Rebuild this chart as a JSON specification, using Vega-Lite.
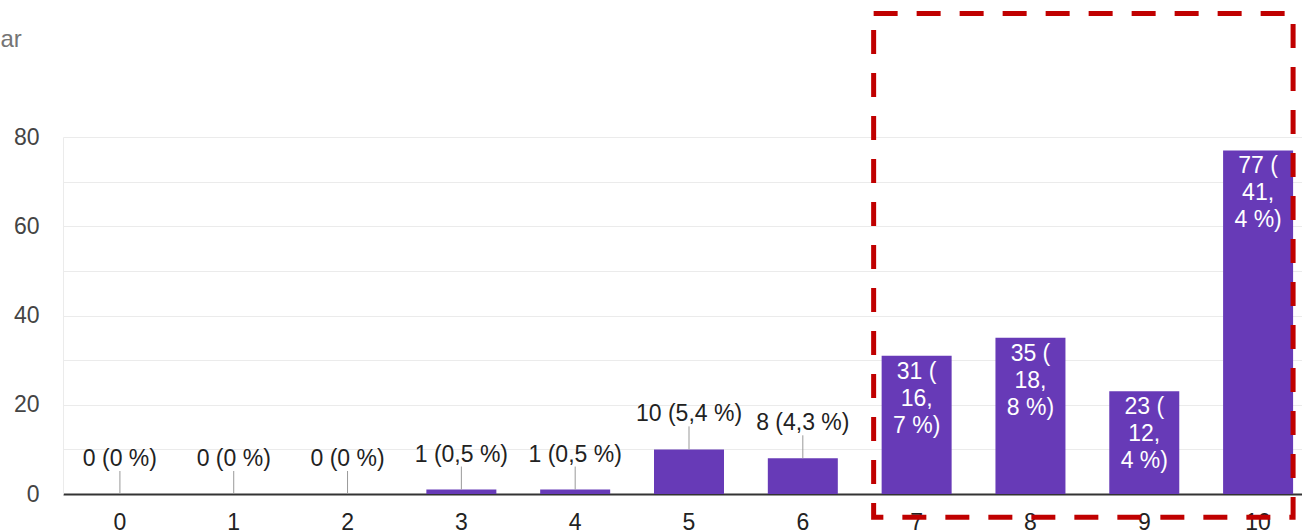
{
  "$schema": "https://vega.github.io/schema/vega-lite/v6.json",
  "autosize": "none",
  "width": 1239,
  "height": 357,
  "padding": {"left": 63, "top": 137, "right": 0, "bottom": 38},
  "config": {
    "view": {"stroke": null},
    "font": "Liberation Sans"
  },
  "data": {
    "values": [
      {"score": "0", "count": 0, "label": "0 (0 %)"},
      {"score": "1", "count": 0, "label": "0 (0 %)"},
      {"score": "2", "count": 0, "label": "0 (0 %)"},
      {"score": "3", "count": 1, "label": "1 (0,5 %)"},
      {"score": "4", "count": 1, "label": "1 (0,5 %)"},
      {"score": "5", "count": 10, "label": "10 (5,4 %)"},
      {"score": "6", "count": 8, "label": "8 (4,3 %)"},
      {"score": "7", "count": 31, "label": "31 (|16,|7 %)"},
      {"score": "8", "count": 35, "label": "35 (|18,|8 %)"},
      {"score": "9", "count": 23, "label": "23 (|12,|4 %)"},
      {"score": "10", "count": 77, "label": "77 (|41,|4 %)"}
    ]
  },
  "encoding": {
    "x": {
      "field": "score",
      "type": "ordinal",
      "sort": null,
      "scale": {"range": [0, 1252], "paddingInner": 0.385, "paddingOuter": 0.1925},
      "axis": {
        "title": null,
        "labelAngle": 0,
        "labelFontSize": 23,
        "labelColor": "#222222",
        "labelPadding": 17,
        "ticks": false,
        "domainColor": "#333333",
        "domainWidth": 2
      }
    },
    "y": {
      "field": "count",
      "type": "quantitative",
      "scale": {"domain": [0, 80], "nice": false},
      "axis": {
        "title": "ar",
        "titleAngle": 0,
        "titleAlign": "left",
        "titleBaseline": "alphabetic",
        "titleX": -63,
        "titleY": -91,
        "titleFontSize": 24,
        "titleFontWeight": "normal",
        "titleColor": "#757575",
        "values": [0, 10, 20, 30, 40, 50, 60, 70, 80],
        "labelExpr": "datum.value % 20 == 0 ? datum.label : ''",
        "labelFontSize": 23,
        "labelColor": "#444444",
        "labelPadding": 24,
        "ticks": false,
        "domainColor": "#ebebeb",
        "gridColor": "#ebebeb"
      }
    }
  },
  "layer": [
    {
      "mark": {"type": "bar", "color": "#673ab7"}
    },
    {
      "transform": [{"filter": "datum.count < 20"}],
      "mark": {"type": "rule", "color": "#999999", "strokeWidth": 1, "y2Offset": -23},
      "encoding": {"y2": {"field": "count"}}
    },
    {
      "transform": [{"filter": "datum.count < 20"}],
      "mark": {"type": "text", "fontSize": 23, "color": "#222222", "baseline": "middle", "dy": -35},
      "encoding": {"text": {"field": "label"}}
    },
    {
      "transform": [{"filter": "datum.count >= 20"}],
      "mark": {"type": "text", "fontSize": 23, "color": "#ffffff", "baseline": "top", "dy": 5, "lineBreak": "|", "lineHeight": 27},
      "encoding": {"text": {"field": "label"}}
    },
    {
      "data": {"values": [{"from": "7", "to": "10", "lo": -5.2, "hi": 107.7}]},
      "mark": {"type": "rect", "filled": false, "stroke": "#c00000", "strokeWidth": 5, "strokeDash": [24, 19], "xOffset": -8},
      "encoding": {
        "x": {"field": "from", "type": "ordinal", "bandPosition": 0},
        "x2": {"field": "to", "bandPosition": 1},
        "y": {"field": "lo", "type": "quantitative"},
        "y2": {"field": "hi"}
      }
    }
  ]
}
